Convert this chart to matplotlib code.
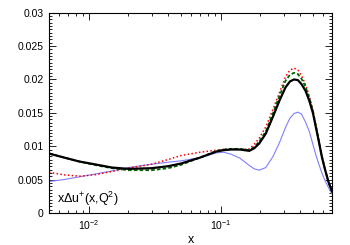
import matplotlib
matplotlib.use("Agg")
import matplotlib.pyplot as plt
from matplotlib.ticker import LogLocator, MultipleLocator, NullFormatter

plt.rcParams['font.family'] = ['Liberation Sans', 'DejaVu Sans']
plt.rcParams['mathtext.fontset'] = 'custom'
plt.rcParams['mathtext.rm'] = 'Liberation Sans'

# values
x = [0.005, 0.0065, 0.0085, 0.011, 0.015, 0.02, 0.03, 0.04, 0.05, 0.07, 0.093, 0.105,
     0.12, 0.14, 0.165, 0.18, 0.196, 0.22, 0.25, 0.28, 0.31, 0.335, 0.36, 0.385,
     0.41, 0.44, 0.47, 0.5, 0.525, 0.555, 0.585, 0.62, 0.66, 0.7]

black = [0.0089, 0.0083, 0.0077, 0.0073, 0.0068, 0.0066, 0.0067, 0.0070, 0.0074, 0.0083, 0.0092, 0.0094,
         0.0095, 0.0095, 0.0093, 0.0097, 0.0104, 0.0119, 0.0145, 0.0169, 0.0188, 0.0197, 0.0200, 0.0199,
         0.0193, 0.0183, 0.0168, 0.0150, 0.0130, 0.0107, 0.0084, 0.0064, 0.0045, 0.0032]

green = [0.0089, 0.0083, 0.0077, 0.0072, 0.0067, 0.0064, 0.0064, 0.0067, 0.0072, 0.0083, 0.0093, 0.0095,
         0.0096, 0.0096, 0.0094, 0.0099, 0.0107, 0.0122, 0.0150, 0.0176, 0.0198, 0.0207, 0.0210, 0.0208,
         0.0201, 0.0189, 0.0172, 0.0153, 0.0132, 0.0108, 0.0085, 0.0064, 0.0045, 0.0032]

red = [0.0061, 0.0057, 0.0055, 0.0057, 0.0062, 0.0067, 0.0073, 0.0080, 0.0086, 0.0091, 0.0094, 0.0095,
       0.0096, 0.0095, 0.0096, 0.0103, 0.0112, 0.0129, 0.0156, 0.0181, 0.0204, 0.0214, 0.0217, 0.0214,
       0.0206, 0.0192, 0.0175, 0.0154, 0.0132, 0.0108, 0.0085, 0.0064, 0.0045, 0.0032]

blue = [0.0047, 0.0050, 0.0054, 0.0058, 0.0063, 0.0068, 0.0073, 0.0076, 0.0078, 0.0083, 0.0090, 0.0091,
        0.0088, 0.0082, 0.0071, 0.0066, 0.0064, 0.0068, 0.0085, 0.0106, 0.0128, 0.0142, 0.0149, 0.0151,
        0.0148, 0.0136, 0.0122, 0.0103, 0.0088, 0.0073, 0.0060, 0.0048, 0.0037, 0.0028]

fig = plt.figure(figsize=(3.5, 2.45), dpi=100)
ax = fig.add_axes([0.14, 0.131, 0.809, 0.817])

ax.plot(x, blue, color='#7f7fff', lw=0.8)
ax.plot(x, red, color='red', lw=1.1, linestyle=(0, (1, 1.5)))
ax.plot(x, green, color='#006400', lw=1.3, linestyle=(0, (2, 1.2)))
ax.plot(x, black, color='black', lw=1.6)

ax.set_xscale('log')
ax.set_xlim(0.005, 0.7)
ax.set_ylim(0, 0.03)

ax.xaxis.set_major_locator(LogLocator(base=10, numticks=10))
ax.xaxis.set_minor_locator(LogLocator(base=10, subs=range(2, 10), numticks=20))
ax.xaxis.set_minor_formatter(NullFormatter())
ax.yaxis.set_minor_locator(MultipleLocator(0.0005))
ax.set_yticks([0, 0.005, 0.01, 0.015, 0.02, 0.025, 0.03])
ax.set_yticklabels(['0', '0.005', '0.01', '0.015', '0.02', '0.025', '0.03'])

ax.tick_params(which='both', direction='in', top=True, right=True, labelsize=7.5, width=0.6)
ax.tick_params(which='major', length=5, pad=4)
ax.tick_params(which='minor', length=2.5)
for s in ax.spines.values():
    s.set_linewidth(0.8)

ax.set_xlabel('x', fontsize=9, labelpad=1)
ax.text(0.028, 0.07, r'x$\Delta$u$^{+}$(x,Q$^{2}$)', transform=ax.transAxes,
        fontsize=9, va='center', ha='left')

fig.savefig('out.png', dpi=100)
